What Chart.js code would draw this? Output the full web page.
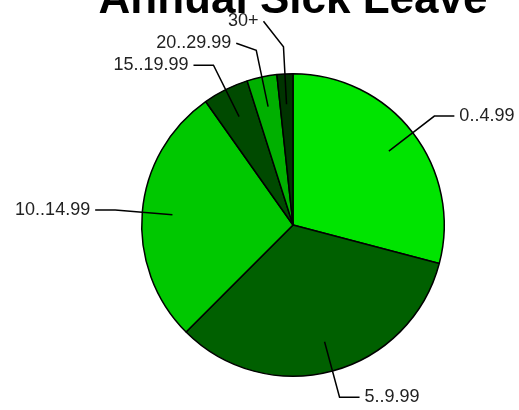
<!DOCTYPE html>
<html>
<head>
<meta charset="utf-8">
<script src="https://cdn.jsdelivr.net/npm/chart.js@4"></script>
<style>
  html, body { margin: 0; padding: 0; background: #fff; }
  #wrap { width: 519px; height: 410px; }
</style>
</head>
<body>
<div id="wrap"><canvas id="pie" width="519" height="410"></canvas></div>
<script>
const categories = ['0..4.99', '5..9.99', '10..14.99', '15..19.99', '20..29.99', '30+'];
const shares = [29.1, 33.4, 27.7, 4.9, 3.2, 1.7];
const sliceColors = ['#00e400', '#006000', '#00c800', '#004a00', '#00b000', '#003400'];
const chartTitle = 'Annual Sick Leave';

// leader lines + labels outside the pie
const leaderLabels = {
    id: 'leaderLabels',
    afterDatasetsDraw(chart) {
        const ctx = chart.ctx;
        const arcs = chart.getDatasetMeta(0).data;
        const items = arcs.map((arc, i) => {
            const mid = (arc.startAngle + arc.endAngle) / 2;
            const r = arc.outerRadius;
            const c = Math.cos(mid), s = Math.sin(mid);
            return {
                text: categories[i],
                ax: arc.x + c * r * 0.8, ay: arc.y + s * r * 0.8,
                ex: arc.x + c * r * 1.18, ey: arc.y + s * r * 1.18,
                right: c >= 0
            };
        });
        // push labels apart on each side, working up from the bottom
        [true, false].forEach(side => {
            const list = items.filter(d => d.right === side).sort((a, b) => b.ey - a.ey);
            let prev = Infinity;
            list.forEach(d => {
                d.ly = Math.min(d.ey, prev - 22);
                prev = d.ly;
            });
        });

        ctx.save();
        ctx.strokeStyle = '#000';
        ctx.lineWidth = 1.5;
        ctx.fillStyle = '#222';
        ctx.font = '18px "Liberation Sans", Arial, sans-serif';
        ctx.textBaseline = 'middle';
        items.forEach(d => {
            const dir = d.right ? 1 : -1;
            const endX = d.ex + dir * 20;
            ctx.beginPath();
            ctx.moveTo(d.ax, d.ay);
            ctx.lineTo(d.ex, d.ey);
            ctx.lineTo(endX, d.ly);
            ctx.stroke();
            ctx.textAlign = d.right ? 'left' : 'right';
            ctx.fillText(d.text, endX + dir * 5, d.ly);
        });
        ctx.restore();
    },
    afterDraw(chart) {
        const ctx = chart.ctx;
        ctx.save();
        ctx.fillStyle = '#000';
        ctx.font = 'bold 44px "Liberation Sans", Arial, sans-serif';
        ctx.textAlign = 'center';
        ctx.textBaseline = 'alphabetic';
        ctx.fillText(chartTitle, 293, 13);
        ctx.restore();
    }
};

new Chart(document.getElementById('pie'), {
    type: 'pie',
    data: {
        labels: categories,
        datasets: [{
            data: shares,
            backgroundColor: sliceColors,
            borderColor: '#000',
            borderWidth: 1.5
        }]
    },
    options: {
        responsive: false,
        animation: false,
        layout: { padding: { top: 73, bottom: 33, left: 141, right: 74 } },
        plugins: {
            legend: { display: false },
            tooltip: { enabled: false },
            title: { display: false }
        }
    },
    plugins: [leaderLabels]
});
</script>
</body>
</html>
